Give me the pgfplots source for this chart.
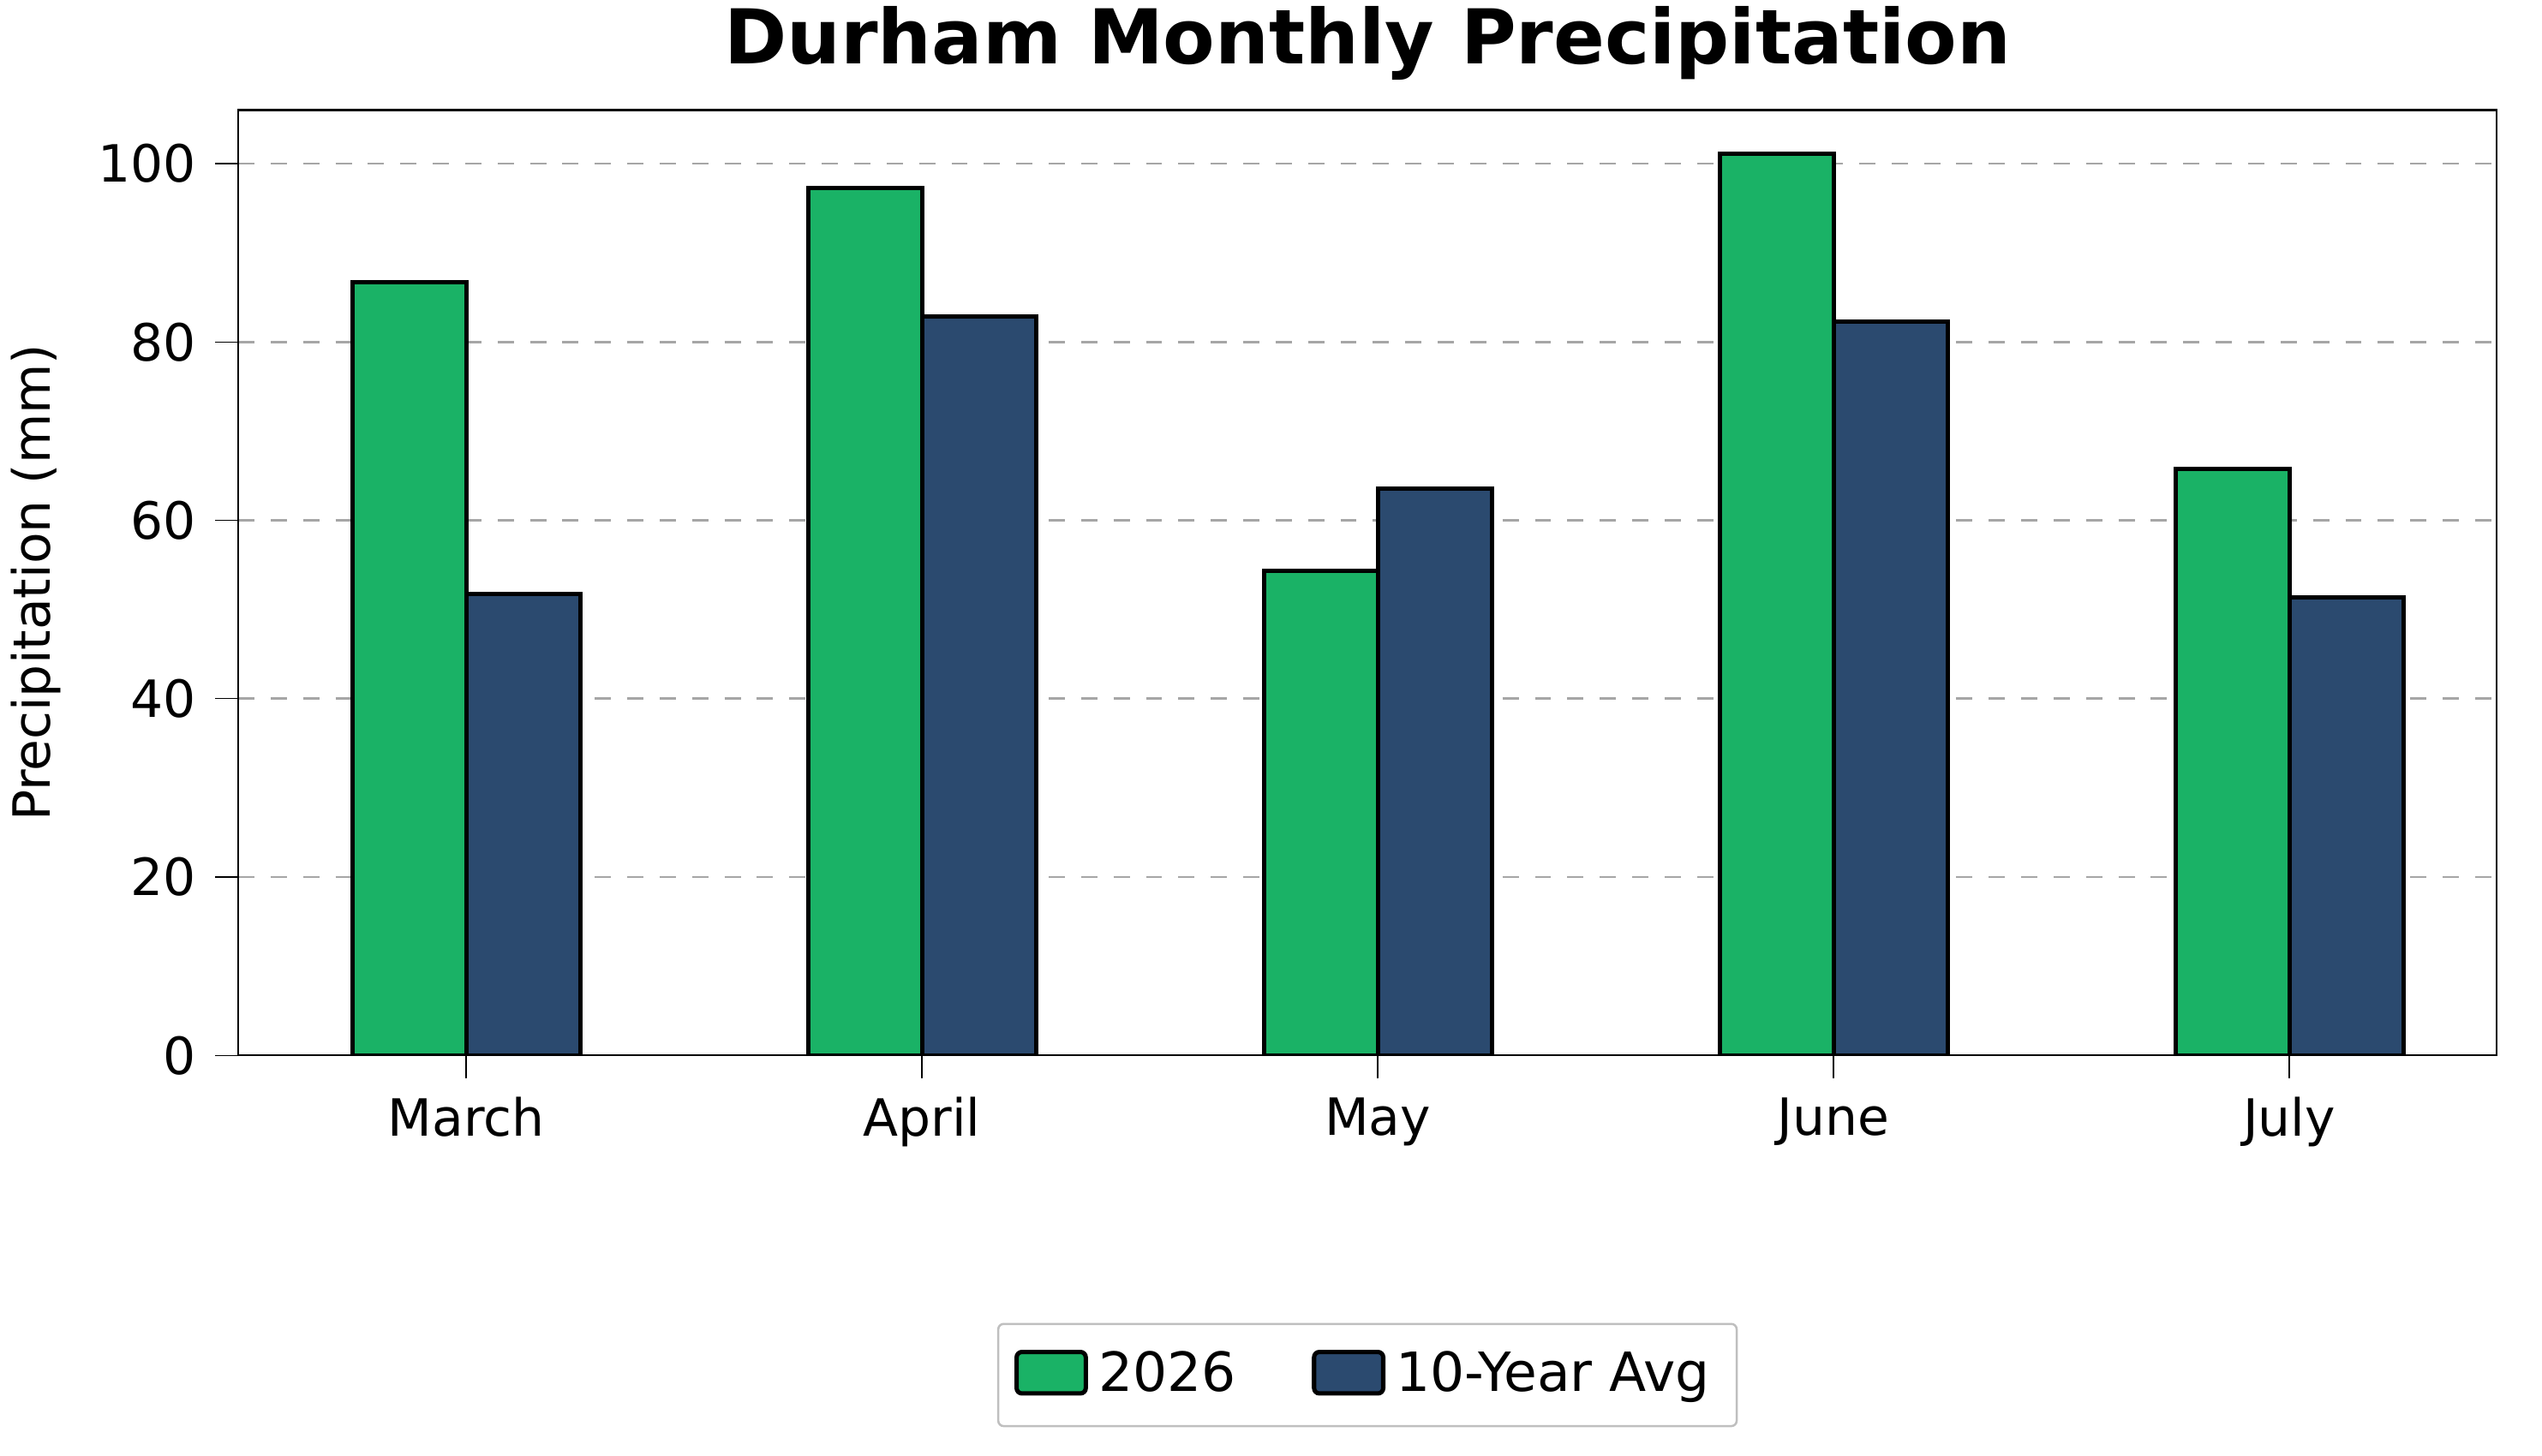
\documentclass[border=0pt]{standalone}
\usepackage{pgfplots}
\pgfplotsset{compat=1.18}
\usepackage{fontspec}
\setmainfont{DejaVu Sans}
\definecolor{cA}{HTML}{1AB266}
\definecolor{cB}{HTML}{2B4A6F}
\begin{document}
\begin{tikzpicture}
\begin{axis}[
 at={(0,0)}, anchor=south west,
 width=418pt, height=175pt, scale only axis,
 xmin=-0.5, xmax=4.455, ymin=0, ymax=106,
 xtick={0,1,2,3,4}, xticklabels={March,April,May,June,July},
 ytick={0,20,40,60,80,100},
 tick style={black}, tick align=outside, xtick pos=bottom, ytick pos=left,
 ymajorgrids, grid style={gray!70, dashed, thin},
 ticklabel style={font=\fontsize{9.5}{11}\selectfont},
 /pgf/number format/assume math mode=true,
 ylabel={Precipitation (mm)}, ylabel style={font=\fontsize{9.5}{11}\selectfont},
 title={\textbf{Durham Monthly Precipitation}}, title style={font=\fontsize{14}{16}\selectfont, yshift=-4pt},
 ybar=0pt, bar width=0.25,
 legend style={at={(0.5,-0.283)}, anchor=north, legend columns=2, font=\fontsize{10}{12}\selectfont, draw=gray!50, rounded corners=1pt, /tikz/every even column/.append style={column sep=12pt}, inner sep=3pt},
 legend image code/.code={\draw[#1] (0cm,-0.12cm) rectangle (0.45cm,0.15cm);},
]
\addplot[fill=cA, draw=black, line width=0.8pt] coordinates {(0,86.7) (1,97.3) (2,54.3) (3,101.1) (4,65.8)};
\addplot[fill=cB, draw=black, line width=0.8pt] coordinates {(0,51.7) (1,82.9) (2,63.6) (3,82.3) (4,51.4)};
\legend{2026,10-Year Avg}
\end{axis}
\pgfresetboundingbox
\path (-44.1pt,-74.1pt) rectangle (426.4pt,195.4pt);
\end{tikzpicture}
\end{document}
